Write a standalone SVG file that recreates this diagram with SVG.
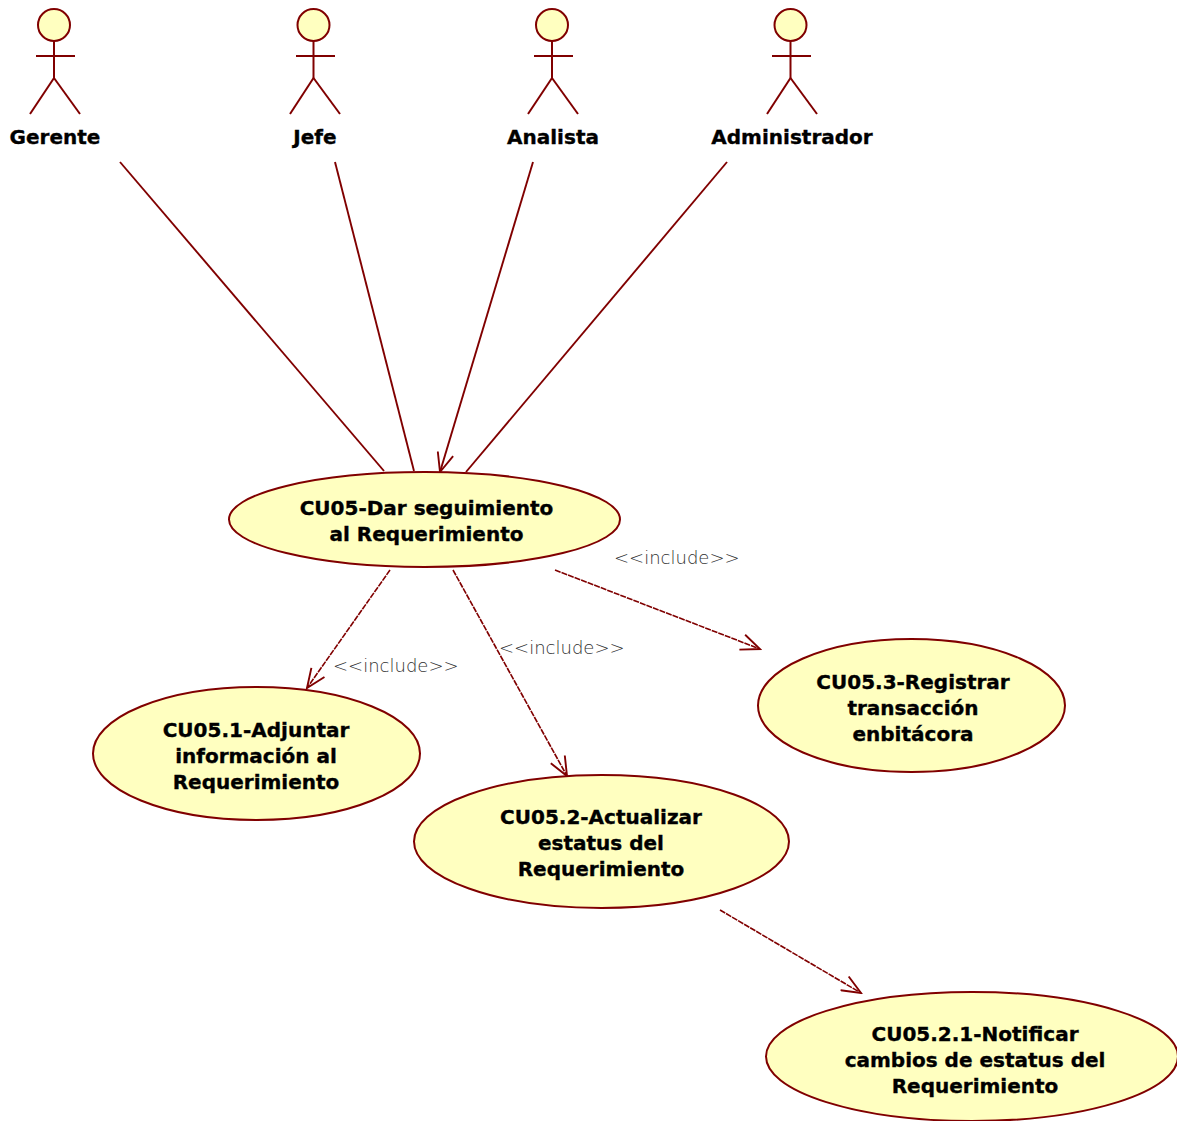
<svg xmlns="http://www.w3.org/2000/svg" width="1177" height="1121" viewBox="0 0 1177 1121">
<style>
.actor circle{fill:#FFFFC0;stroke:#800000;stroke-width:2}
.actor line{stroke:#800000;stroke-width:2}
.uc ellipse{fill:#FFFFC0;stroke:#800000;stroke-width:2}
.lbl{font-family:"DejaVu Sans",Verdana,sans-serif;font-weight:bold;font-size:20px;fill:#000;stroke:#000;stroke-width:0.35;text-anchor:middle}
.uct{font-family:"DejaVu Sans",Verdana,sans-serif;font-weight:bold;font-size:20px;fill:#000;stroke:#000;stroke-width:0.35;text-anchor:middle}
.assoc{stroke:#800000;stroke-width:1.9;fill:none}
.incl{stroke:#800000;stroke-width:1.6;fill:none;stroke-dasharray:6 1}
.st{font-family:"DejaVu Sans",Verdana,sans-serif;font-weight:200;font-size:18px;fill:#303030}
</style>
<defs>
<marker id="open" viewBox="0 0 22 18" refX="20" refY="9" markerWidth="22" markerHeight="18" markerUnits="userSpaceOnUse" orient="auto">
<path d="M1,1 L20,9 L1,17" fill="none" stroke="#800000" stroke-width="1.9"/>
</marker>
</defs>
<rect width="1177" height="1121" fill="#fff"/>
<g id="connectors">
<line class="assoc" x1="120" y1="162" x2="384" y2="471"/>
<line class="assoc" x1="335" y1="162" x2="414" y2="471"/>
<line class="assoc" x1="533" y1="162" x2="440" y2="472" marker-end="url(#open)"/>
<line class="assoc" x1="727" y1="162" x2="466" y2="472"/>
<line class="incl" x1="390" y1="570" x2="307" y2="688" marker-end="url(#open)"/>
<line class="incl" x1="453" y1="570" x2="567" y2="776" marker-end="url(#open)"/>
<line class="incl" x1="555" y1="570" x2="760" y2="649" marker-end="url(#open)"/>
<line class="incl" x1="720" y1="910" x2="861" y2="993" marker-end="url(#open)"/>
<text class="st" x="333" y="672">&lt;&lt;include&gt;&gt;</text>
<text class="st" x="499" y="654">&lt;&lt;include&gt;&gt;</text>
<text class="st" x="614" y="564">&lt;&lt;include&gt;&gt;</text>
</g>
<g id="actor-gerente" class="actor">
<circle cx="54" cy="25" r="16"/>
<line x1="54" y1="41" x2="54" y2="78"/>
<line x1="36" y1="56" x2="75" y2="56"/>
<line x1="54" y1="78" x2="30" y2="114"/>
<line x1="54" y1="78" x2="80" y2="114"/>
<text class="lbl" x="55" y="144">Gerente</text>
</g>
<g id="actor-jefe" class="actor">
<circle cx="313.5" cy="25" r="16"/>
<line x1="313.5" y1="41" x2="313.5" y2="78"/>
<line x1="296" y1="56" x2="335" y2="56"/>
<line x1="313.5" y1="78" x2="290" y2="114"/>
<line x1="313.5" y1="78" x2="340" y2="114"/>
<text class="lbl" x="315" y="144">Jefe</text>
</g>
<g id="actor-analista" class="actor">
<circle cx="552" cy="25" r="16"/>
<line x1="552" y1="41" x2="552" y2="78"/>
<line x1="534" y1="56" x2="573" y2="56"/>
<line x1="552" y1="78" x2="528" y2="114"/>
<line x1="552" y1="78" x2="578" y2="114"/>
<text class="lbl" x="553" y="144">Analista</text>
</g>
<g id="actor-administrador" class="actor">
<circle cx="790.5" cy="25" r="16"/>
<line x1="790.5" y1="41" x2="790.5" y2="78"/>
<line x1="772" y1="56" x2="811" y2="56"/>
<line x1="790.5" y1="78" x2="767" y2="114"/>
<line x1="790.5" y1="78" x2="817" y2="114"/>
<text class="lbl" x="792" y="144">Administrador</text>
</g>
<g id="uc-cu05" class="uc">
<ellipse cx="424.5" cy="519.5" rx="195.5" ry="47.5"/>
<text class="uct" x="426.5" y="515">CU05-Dar seguimiento</text>
<text class="uct" x="426.5" y="541">al Requerimiento</text>
</g>
<g id="uc-cu05-1" class="uc">
<ellipse cx="256.5" cy="753.5" rx="163.5" ry="66.5"/>
<text class="uct" x="256" y="737">CU05.1-Adjuntar</text>
<text class="uct" x="256" y="763">información al</text>
<text class="uct" x="256" y="789">Requerimiento</text>
</g>
<g id="uc-cu05-2" class="uc">
<ellipse cx="601.5" cy="841.5" rx="187.5" ry="66.5"/>
<text class="uct" x="601" y="824">CU05.2-Actualizar</text>
<text class="uct" x="601" y="850">estatus del</text>
<text class="uct" x="601" y="876">Requerimiento</text>
</g>
<g id="uc-cu05-3" class="uc">
<ellipse cx="911.5" cy="705.5" rx="153.5" ry="66.5"/>
<text class="uct" x="913" y="689">CU05.3-Registrar</text>
<text class="uct" x="913" y="715">transacción</text>
<text class="uct" x="913" y="741">enbitácora</text>
</g>
<g id="uc-cu05-2-1" class="uc">
<ellipse cx="972" cy="1056.5" rx="206" ry="64.5"/>
<text class="uct" x="975" y="1041">CU05.2.1-Notificar</text>
<text class="uct" x="975" y="1067">cambios de estatus del</text>
<text class="uct" x="975" y="1093">Requerimiento</text>
</g>
</svg>
